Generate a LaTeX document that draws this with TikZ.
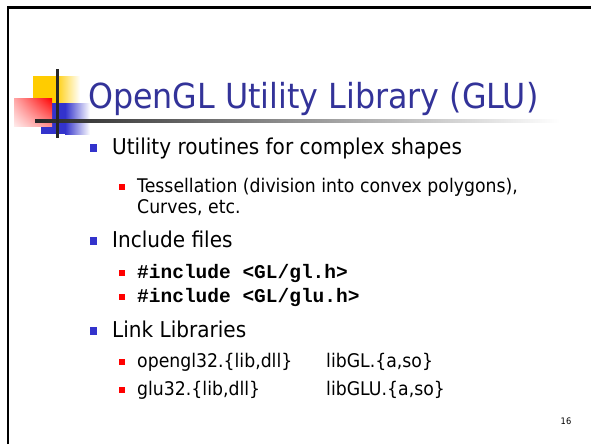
\documentclass[tikz,border=0pt]{standalone}
\usepackage{fontspec}
\setmainfont{DejaVu Sans}[FakeStretch=0.92]
\setmonofont{Liberation Mono}
\usepackage{xcolor}
\usetikzlibrary{shadings}
\definecolor{titleblue}{HTML}{333399}
\definecolor{dotblue}{HTML}{3333CC}
\definecolor{logoyellow}{HTML}{FFCC00}

\begin{document}
\begin{tikzpicture}[x=1pt, y=-1pt,
    heading/.style={anchor=base west, inner sep=0pt, text=titleblue, font=\fontsize{34.5}{40}\selectfont},
    lvlone/.style={anchor=base west, inner sep=0pt, font=\fontsize{21.8}{26}\selectfont},
    lvltwo/.style={anchor=base west, inner sep=0pt, font=\fontsize{18.8}{22}\selectfont},
    code/.style={anchor=base west, inner sep=0pt, font=\fontsize{19.5}{22}\selectfont\ttfamily\bfseries},
    dotone/.style={rectangle, fill=dotblue, minimum size=7.5pt, inner sep=0pt},
    dottwo/.style={rectangle, fill=red, minimum size=6pt, inner sep=0pt}]

    \useasboundingbox (0,0) rectangle (591,444);
    \draw[line width=2.5pt] (8,444) -- (8,7.5) -- (591,7.5);

    \fill[logoyellow] (33,76) rectangle (55,103);
    \shade[left color=logoyellow, right color=white] (55,76) rectangle (80,103);
    \fill[dotblue] (41,103) rectangle (65,134);
    \shade[left color=dotblue, right color=white] (65,103) rectangle (90,134);
    \shade[upper right=red, upper left=red!35, lower right=red!45, lower left=red!8] (14,98) rectangle (52,126);
    \shade[left color=black!85, right color=white] (35,119.8) rectangle (560,122.3);
    \draw[line width=3pt, black!85] (57,69) -- (57,138);

    \node[heading] (title) at (88,108.5) {OpenGL Utility Library (GLU)};

    \node[dotone] (b1) at (93.5,148) {};
    \node[lvlone] (util) at (112,154) {Utility routines for complex shapes};
    \node[dottwo] (r1) at (122,186.5) {};
    \node[lvltwo] (tess) at (137,192) {Tessellation (division into convex polygons),};
    \node[lvltwo] (curves) at (137,213) {Curves, etc.};

    \node[dotone] (b2) at (93.5,241) {};
    \node[lvlone] (incl) at (112,247) {Include files};
    \node[dottwo] (r2) at (122,272.5) {};
    \node[code] (glh) at (137,278) {\#include <GL/gl.h>};
    \node[dottwo] (r3) at (122,296.5) {};
    \node[code] (gluh) at (137,302) {\#include <GL/glu.h>};

    \node[dotone] (b3) at (93.5,331) {};
    \node[lvlone] (link) at (112,337) {Link Libraries};
    \node[dottwo] (r4) at (122,361.5) {};
    \node[lvltwo] (winlib) at (137,367) {opengl32.\{lib,dll\}};
    \node[lvltwo] (unixlib) at (326,367) {libGL.\{a,so\}};
    \node[dottwo] (r5) at (122,389.5) {};
    \node[lvltwo] (winglu) at (137,395) {glu32.\{lib,dll\}};
    \node[lvltwo] (unixglu) at (326,395) {libGLU.\{a,so\}};

    \node[font=\fontsize{9}{11}\selectfont, inner sep=0pt] (page) at (566,421) {16};
\end{tikzpicture}
\end{document}
